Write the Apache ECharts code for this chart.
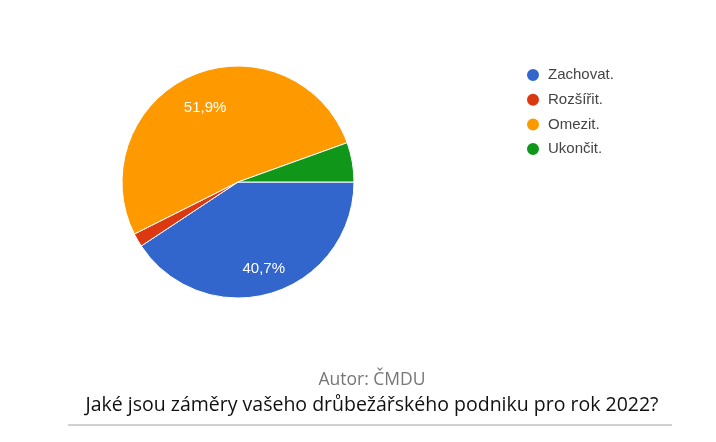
<!DOCTYPE html>
<html><head><meta charset="utf-8">
<script src="https://cdn.jsdelivr.net/npm/echarts@6/dist/echarts.min.js"></script>
<style>html,body{margin:0;padding:0;background:#fff;}#c{width:716px;height:442px;}</style>
</head><body><div id="c"></div>
<script>
const categories = ['Zachovat.', 'Rozšířit.', 'Omezit.', 'Ukončit.'];
const percentValues = [40.7, 1.9, 51.9, 5.5];
const colors = ['#3366cc', '#dc3912', '#ff9900', '#109618'];
const author = 'Autor: ČMDU';
const caption = 'Jaké jsou záměry vašeho drůbežářského podniku pro rok 2022?';

const chart = echarts.init(document.getElementById('c'), null, {renderer: 'canvas'});
const pieData = categories.map((n, i) => ({name: n, value: percentValues[i], itemStyle: {color: colors[i]}}));
const fmt = p => p.value >= 10 ? p.value.toFixed(1).replace('.', ',') + '%' : '';
chart.setOption({
  animation: false,
  legend: {
    orient: 'vertical', left: 525, top: 67, padding: 0,
    icon: 'circle', itemWidth: 20, itemHeight: 14, itemGap: 8.7,
    textStyle: {fontFamily: 'Arial, Liberation Sans', fontSize: 15, color: '#444'},
    data: categories
  },
  graphic: [
    {type: 'text', x: 372, y: 380, style: {text: author, fontFamily: 'Open Sans', fontSize: 17.5, fill: '#777', align: 'center', verticalAlign: 'middle'}},
    {type: 'text', x: 372, y: 405, style: {text: caption, fontFamily: 'Open Sans', fontSize: 19.5, fill: '#111', align: 'center', verticalAlign: 'middle'}},
    {type: 'rect', shape: {x: 68, y: 424, width: 604, height: 2}, style: {fill: '#d0d0d0'}}
  ],
  series: [
    {
      type: 'pie', center: [238, 182], radius: [0, 116],
      startAngle: 0, clockwise: true, silent: true,
      itemStyle: {borderColor: '#fff', borderWidth: 1},
      label: {show: false}, labelLine: {show: false},
      data: pieData
    },
    {
      type: 'pie', center: [239, 187], radius: [50, 116],
      startAngle: 0, clockwise: true, silent: true,
      itemStyle: {color: 'rgba(0,0,0,0)'},
      label: {show: true, position: 'inside', formatter: fmt,
        fontFamily: 'Arial, Liberation Sans', fontSize: 15, color: '#fff'},
      labelLine: {show: false},
      data: categories.map((n, i) => ({name: n, value: percentValues[i]}))
    }
  ]
});
</script></body></html>
